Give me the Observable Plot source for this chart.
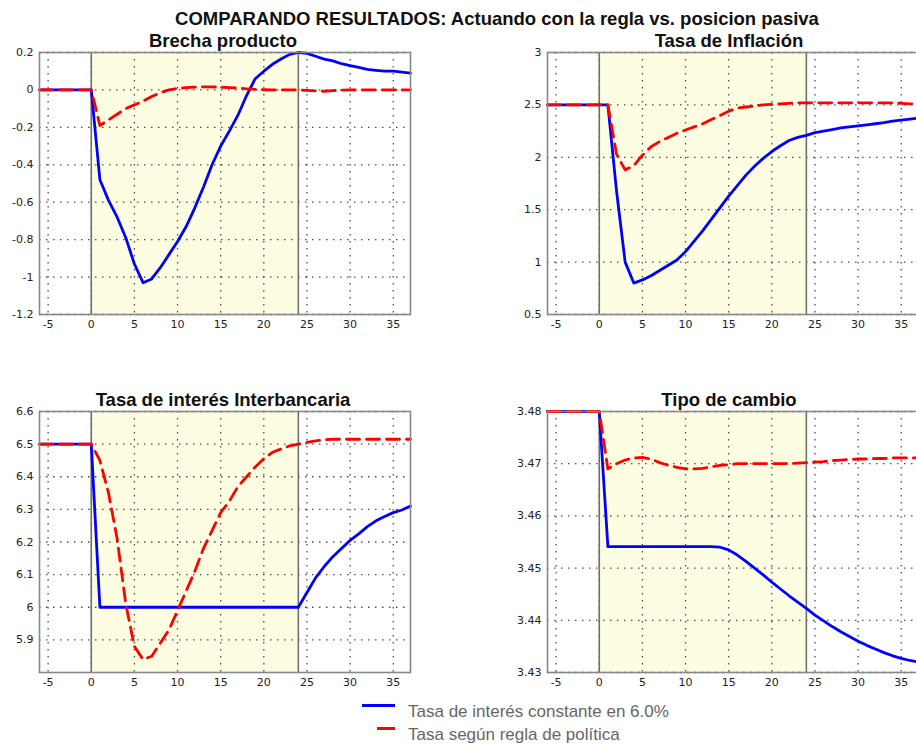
<!DOCTYPE html>
<html>
<head>
<meta charset="utf-8">
<script src="https://cdn.jsdelivr.net/npm/d3@7"></script>
<script src="https://cdn.jsdelivr.net/npm/@observablehq/plot@0.6"></script>
<style>
  html, body { margin: 0; padding: 0; background: #fff; }
  #root { position: relative; width: 916px; height: 745px; overflow: hidden; background: #fff; font-family: "Liberation Sans", Arial, sans-serif; }
  .title { position: absolute; font-weight: bold; font-size: 18.5px; color: #111; white-space: nowrap; transform: translateX(-50%); line-height: 1; }
  .leg { position: absolute; font-size: 17px; color: #666; white-space: nowrap; line-height: 1; }
  .sw { position: absolute; height: 3px; }
</style>
</head>
<body>
<div id="root"></div>
<script>
// ---- data ----
const quarters = [-6,-5,-4,-3,-2,-1,0,1,2,3,4,5,6,7,8,9,10,11,12,13,14,15,16,17,18,19,20,21,22,23,24,25,26,27,28,29,30,31,32,33,34,35,36,37];

const brechaConst = [0,0,0,0,0,0,0,-0.48,-0.59,-0.68,-0.79,-0.93,-1.03,-1.01,-0.95,-0.88,-0.81,-0.73,-0.63,-0.52,-0.40,-0.30,-0.22,-0.135,-0.03,0.06,0.10,0.137,0.165,0.19,0.20,0.195,0.18,0.165,0.155,0.14,0.13,0.12,0.11,0.105,0.10,0.10,0.095,0.09];
const brechaRegla = [0,0,0,0,0,0,0,-0.19,-0.16,-0.13,-0.10,-0.08,-0.06,-0.035,-0.015,0,0.008,0.012,0.015,0.016,0.016,0.015,0.012,0.01,0.006,0.003,0.001,0,0,0,0,-0.002,-0.005,-0.007,-0.004,-0.001,0,0,0,0,0,0,0,0];

const inflConst = [2.5,2.5,2.5,2.5,2.5,2.5,2.5,2.5,1.68,1.0,0.80,0.83,0.87,0.92,0.97,1.02,1.10,1.20,1.30,1.41,1.52,1.63,1.73,1.83,1.915,1.99,2.055,2.11,2.16,2.19,2.21,2.235,2.25,2.265,2.28,2.29,2.30,2.31,2.32,2.33,2.345,2.355,2.365,2.375];
const inflRegla = [2.5,2.5,2.5,2.5,2.5,2.5,2.5,2.5,2.03,1.88,1.92,2.02,2.10,2.15,2.19,2.23,2.26,2.29,2.32,2.36,2.40,2.44,2.47,2.48,2.49,2.50,2.505,2.51,2.515,2.52,2.52,2.52,2.52,2.52,2.52,2.52,2.52,2.52,2.52,2.52,2.52,2.515,2.51,2.51];

const tasaConst = [6.5,6.5,6.5,6.5,6.5,6.5,6.5,6.0,6.0,6.0,6.0,6.0,6.0,6.0,6.0,6.0,6.0,6.0,6.0,6.0,6.0,6.0,6.0,6.0,6.0,6.0,6.0,6.0,6.0,6.0,6.0,6.045,6.09,6.125,6.155,6.18,6.205,6.225,6.247,6.265,6.278,6.29,6.298,6.31];
const tasaRegla = [6.5,6.5,6.5,6.5,6.5,6.5,6.5,6.45,6.35,6.21,6.01,5.88,5.84,5.85,5.89,5.93,5.99,6.05,6.11,6.18,6.235,6.29,6.325,6.37,6.40,6.43,6.455,6.475,6.485,6.495,6.50,6.505,6.51,6.513,6.515,6.515,6.515,6.515,6.515,6.515,6.515,6.515,6.515,6.515];

const cambioConst = [3.48,3.48,3.48,3.48,3.48,3.48,3.48,3.4541,3.4541,3.4541,3.4541,3.4541,3.4541,3.4541,3.4541,3.4541,3.4541,3.4541,3.4541,3.4541,3.4540,3.4535,3.4525,3.4513,3.4500,3.4487,3.4473,3.4460,3.4447,3.4435,3.4423,3.4410,3.4399,3.4388,3.4378,3.4369,3.4360,3.4352,3.4345,3.4338,3.4332,3.4327,3.4323,3.4320];
const cambioRegla = [3.48,3.48,3.48,3.48,3.48,3.48,3.48,3.4690,3.4700,3.4707,3.4711,3.4712,3.4709,3.4702,3.4697,3.4693,3.4690,3.4690,3.4691,3.4694,3.4697,3.4698,3.4700,3.4700,3.4700,3.4700,3.4700,3.4700,3.4700,3.4701,3.4702,3.4703,3.4704,3.4706,3.4707,3.4708,3.4709,3.4709,3.4710,3.4710,3.4711,3.4711,3.4711,3.4711];

const xTicks = [-5,0,5,10,15,20,25,30,35];
const brechaTicks = [-1.2,-1,-0.8,-0.6,-0.4,-0.2,0,0.2];
const inflTicks = [0.5,1,1.5,2,2.5,3];
const tasaTicks = [5.9,6,6.1,6.2,6.3,6.4,6.5,6.6];
const cambioTicks = [3.43,3.44,3.45,3.46,3.47,3.48];
const shadeRange = [0, 24];

const mainTitle = "COMPARANDO RESULTADOS: Actuando con la regla vs. posicion pasiva";
const panelTitles = ["Brecha producto", "Tasa de Inflación", "Tasa de interés Interbancaria", "Tipo de cambio"];
const legendLabels = ["Tasa de interés constante en 6.0%", "Tasa según regla de política"];

// ---- drawing ----
const root = document.getElementById("root");

function panel(constVals, reglaVals, yDomain, yTicks, left, top, h) {
  const data = quarters.map((t, i) => ({t, c: constVals[i], r: reglaVals[i]}));
  const mL = 40, mR = 10, mT = 5, mB = 25;
  const chart = Plot.plot({
    width: mL + 371 + mR,
    height: mT + h + mB,
    marginLeft: mL, marginRight: mR, marginTop: mT, marginBottom: mB,
    style: {fontFamily: "'DejaVu Sans', sans-serif", fontSize: "11px", color: "#222", background: "transparent", overflow: "visible"},
    x: {domain: [-6, 37], ticks: xTicks, tickFormat: d => String(d), tickSize: 0, tickPadding: 6, label: null},
    y: {domain: yDomain, ticks: yTicks, tickFormat: d => String(d), tickSize: 0, tickPadding: 6, label: null},
    marks: [
      Plot.rect([shadeRange], {x1: d => d[0], x2: d => d[1], y1: yDomain[0], y2: yDomain[1], fill: "#fdfde1"}),
      Plot.gridX(xTicks, {stroke: "#222", strokeOpacity: 0.8, strokeDasharray: "1.5,5.5", strokeWidth: 1.3}),
      Plot.gridY(yTicks, {stroke: "#222", strokeOpacity: 0.8, strokeDasharray: "1.5,5.5", strokeWidth: 1.3}),
      Plot.ruleX(shadeRange, {stroke: "#6f6f6f", strokeWidth: 1.6}),
      Plot.line(data, {x: "t", y: "c", stroke: "#0000ff", strokeWidth: 2.8}),
      Plot.line(data, {x: "t", y: "r", stroke: "#ff0000", strokeWidth: 2.8, strokeDasharray: "13,7"}),
      Plot.frame({stroke: "#888", strokeWidth: 1.6})
    ]
  });
  chart.style.position = "absolute";
  chart.style.left = (left - mL) + "px";
  chart.style.top = (top - mT) + "px";
  root.appendChild(chart);
}

panel(brechaConst, brechaRegla, [-1.2, 0.2], brechaTicks, 39, 52, 262);
panel(inflConst, inflRegla, [0.5, 3], inflTicks, 547, 52, 262);
panel(tasaConst, tasaRegla, [5.8, 6.6], tasaTicks, 39, 411, 261);
panel(cambioConst, cambioRegla, [3.43, 3.48], cambioTicks, 547, 411, 261);

function addTitle(text, cx, baseline, cls) {
  const d = document.createElement("div");
  d.className = cls;
  d.textContent = text;
  d.style.left = cx + "px";
  d.style.top = (baseline - 14) + "px";
  root.appendChild(d);
}
addTitle(mainTitle, 497, 24, "title");
addTitle(panelTitles[0], 223, 46, "title");
addTitle(panelTitles[1], 729, 46, "title");
addTitle(panelTitles[2], 223, 405, "title");
addTitle(panelTitles[3], 729, 405, "title");

// legend
const sw1 = document.createElement("div");
sw1.className = "sw"; sw1.style.left = "362px"; sw1.style.width = "33px"; sw1.style.top = "704px"; sw1.style.background = "#0000ff";
root.appendChild(sw1);
const sw2 = document.createElement("div");
sw2.className = "sw"; sw2.style.left = "377px"; sw2.style.width = "18px"; sw2.style.top = "727px"; sw2.style.background = "#ff0000";
root.appendChild(sw2);
legendLabels.forEach((txt, i) => {
  const d = document.createElement("div");
  d.className = "leg";
  d.textContent = txt;
  d.style.left = "408px";
  d.style.top = (703 + i * 23) + "px";
  root.appendChild(d);
});
</script>
</body>
</html>
